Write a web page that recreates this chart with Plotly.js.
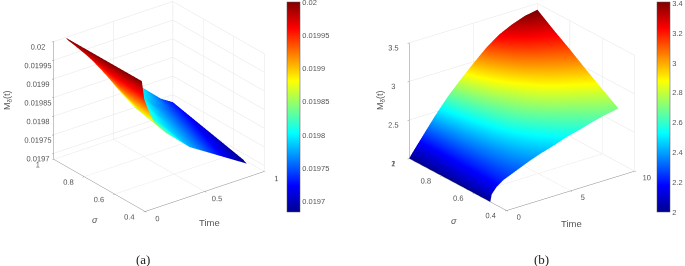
<!DOCTYPE html>
<html><head><meta charset="utf-8">
<script src="https://cdn.plot.ly/plotly-3.0.1.min.js"></script>
<style>html,body{margin:0;padding:0;background:#fff;overflow:hidden}#c{position:absolute;left:0;top:-30px;width:685px;height:296px}</style>
</head><body><div id="c"></div>
<script>
// Panel (a)
var timeA = [0.1,0.12,0.15,0.2,0.3,0.4,0.5,0.6,0.7,0.8,0.9,1];
var sigmaA = [0.5,0.6,0.7,0.8,0.9,1];
var zA = [
 [0.02,0.01995,0.01992,0.01988,0.01984,0.01981,0.01978,0.01976,0.01974,0.01972,0.0197,0.01968],
 [0.02,0.01996,0.01993,0.01989,0.01985,0.01982,0.01979,0.01977,0.01975,0.01973,0.01971,0.01969],
 [0.02,0.01997,0.01994,0.01991,0.01986,0.01983,0.0198,0.01978,0.01976,0.01974,0.01972,0.0197],
 [0.02,0.01998,0.01996,0.01993,0.01988,0.01985,0.01982,0.01979,0.01977,0.01975,0.01973,0.01971],
 [0.02,0.01999,0.01997,0.01995,0.01991,0.01987,0.01984,0.01981,0.01978,0.01976,0.01974,0.01972],
 [0.02,0.01999,0.01998,0.01997,0.01994,0.0199,0.01987,0.01984,0.01981,0.01978,0.01975,0.01973]
];
var zTicksA = [0.0197,0.01975,0.0198,0.01985,0.0199,0.01995,0.02];
var zTextA = ['0.0197','0.01975','0.0198','0.01985','0.0199','0.01995','0.02'];
var timeTicksA = [0,0.5,1];
var timeTextA = ['0','0.5','1'];
// Panel (b)
var timeB = [0,0.1,0.5,1,2,3,4,5,6,7,8,9,10];
var sigmaB = [0.5,0.6,0.7,0.8,0.9,1];
var zB = [
 [2,2.09,2.17,2.23,2.30,2.37,2.43,2.48,2.54,2.58,2.63,2.67,2.70],
 [2,2.07,2.15,2.22,2.33,2.42,2.50,2.57,2.63,2.69,2.74,2.79,2.84],
 [2,2.06,2.14,2.22,2.35,2.47,2.58,2.67,2.75,2.82,2.88,2.93,2.98],
 [2,2.05,2.13,2.22,2.38,2.52,2.65,2.76,2.86,2.95,3.02,3.08,3.13],
 [2,2.04,2.12,2.22,2.41,2.58,2.73,2.87,2.99,3.10,3.18,3.23,3.27],
 [2,2.03,2.12,2.23,2.45,2.65,2.82,2.98,3.13,3.25,3.33,3.39,3.42]
];
var zTicksB = [2,2.5,3,3.5];
var zTextB = ['2','2.5','3','3.5'];
var timeTicksB = [0,5,10];
var timeTextB = ['0','5','10'];
var sigmaTicks = [0.4,0.6,0.8,1];
var sigmaText = ['0.4','0.6','0.8','\u00a0\u00a0\u00a0\u00a0\u00a01'];
var barTicksB = [2,2.2,2.4,2.6,2.8,3,3.2,3.4];
var barTextB = ['2','2.2','2.4','2.6','2.8','3','3.2','3.4'];

var jet = [[0,'#00008f'],[0.125,'#0000ff'],[0.375,'#00ffff'],[0.625,'#ffff00'],[0.875,'#ff0000'],[1,'#800000']];
var W = 685, H = 296, OFF = 30;
var tickCol = '#555';
function bar(px){return {x:px/W,xanchor:'left',xpad:0,y:1-(2+OFF)/H,yanchor:'top',ypad:0,thickness:13,thicknessmode:'pixels',
  len:210,lenmode:'pixels',outlinewidth:0.5,outlinecolor:'#555',ticks:'',ticklabelposition:'outside',ticklabeloverflow:'allow',
  tickfont:{family:'Liberation Sans',size:7.5,color:tickCol}};}
var light = {ambient:1,diffuse:0,specular:0,roughness:1,fresnel:0};
function surf(x,y,z,sc,cmin,cmax,cb){return {type:'surface',x:x,y:y,z:z,scene:sc,colorscale:jet,cmin:cmin,cmax:cmax,
  lighting:light,colorbar:cb,hoverinfo:'skip',contours:{x:{show:false},y:{show:false},z:{show:false}}};}
function ax(vals,text,range){return {title:{text:''},
  range:range,tickmode:'array',tickvals:vals,ticktext:text,tickangle:0,tickfont:{family:'Liberation Sans',size:9.5,color:tickCol},
  showgrid:true,gridcolor:'#e4e4e4',gridwidth:1,showline:true,linecolor:'#888',linewidth:1,zeroline:false,
  showbackground:false,showspikes:false,ticks:'outside',ticklen:2,tickcolor:'#888'};}
var k = 1.36;
function eye(t,e){t=t*Math.PI/180;e=e*Math.PI/180;return {x:-k*Math.cos(e)*Math.sin(t),y:-k*Math.cos(e)*Math.cos(t),z:k*Math.sin(e)};}
function note(x,y,text,size,angle,fam){return {xref:'paper',yref:'paper',x:x/W,y:1-(y+OFF)/H,xanchor:'center',yanchor:'middle',showarrow:false,
  text:text,textangle:angle,font:{family:fam,size:size,color:fam==='Liberation Serif'?'#222':tickCol}};}
var bA = bar(287);
bA.tickvals = zTicksA; bA.ticktext = zTextA;
var bB = bar(657);
bB.tickvals = barTicksB; bB.ticktext = barTextB;
var data = [surf(timeA,sigmaA,zA,'scene',0.019684,0.0200005,bA), surf(timeB,sigmaB,zB,'scene2',2,3.41,bB)];
var sans = 'Liberation Sans', serif = 'Liberation Serif';
var layout = {width:W,height:H,margin:{l:0,r:0,t:0,b:0},paper_bgcolor:'rgba(0,0,0,0)',showlegend:false,
 scene:{domain:{x:[0,318/W],y:[1-273/H,1]},aspectmode:'manual',aspectratio:{x:1.10,y:1.10,z:0.96},
  camera:{eye:eye(37.5,26),center:{x:0,y:0,z:0},up:{x:0,y:0,z:1},projection:{type:'orthographic'}},
  xaxis:ax(timeTicksA,timeTextA,[0,1]),yaxis:ax(sigmaTicks,sigmaText,[0.4,1]),
  zaxis:ax(zTicksA,zTextA,[0.019684,0.02])},
 scene2:{domain:{x:[362/W,682/W],y:[1-274/H,1]},aspectmode:'manual',aspectratio:{x:1.175,y:1.175,z:0.924},
  camera:{eye:eye(37.2,23.9),center:{x:0,y:0,z:0},up:{x:0,y:0,z:1},projection:{type:'orthographic'}},
  xaxis:ax(timeTicksB,timeTextB,[0,10]),yaxis:ax(sigmaTicks,sigmaText,[0.4,1]),
  zaxis:ax(zTicksB,zTextB,[2,3.5])},
 annotations:[
  note(143,259,'(a)',13,0,serif), note(541,259,'(b)',13,0,serif),
  note(209,222,'Time',9.5,0,sans), note(95,220,'<i>σ</i>',9,0,sans), note(7,100,'M<sub>δ</sub>(t)',9,-90,sans),
  note(571,223,'Time',9.5,0,sans), note(454,221,'<i>σ</i>',9,0,sans), note(380,100,'M<sub>δ</sub>(t)',9,-90,sans)
 ]};
Plotly.newPlot('c',data,layout,{displayModeBar:false});
</script></body></html>
